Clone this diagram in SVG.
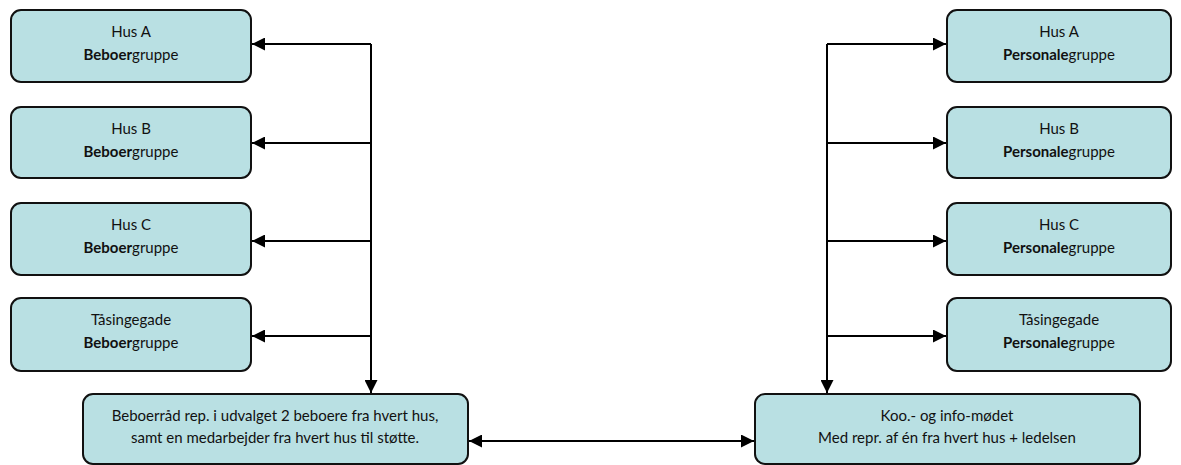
<svg xmlns="http://www.w3.org/2000/svg" width="1181" height="465" viewBox="0 0 1181 465">
<defs>
<style>
.box{fill:#b9e0e3;stroke:#111;stroke-width:2}
.t{font-family:Lato,"Liberation Sans",sans-serif;font-size:15px;fill:#111;text-anchor:middle}
.b{font-weight:bold}
.c{fill:none;stroke:#000;stroke-width:2}
</style>
<marker id="ah" viewBox="0 0 12 12" refX="12" refY="6" markerWidth="13" markerHeight="13" markerUnits="userSpaceOnUse" orient="auto-start-reverse">
<path d="M0,0 L12,6 L0,12 Z" fill="#000"/>
</marker>
</defs>
<rect width="1181" height="465" fill="#fff"/>
<g id="connectors">
<path class="c" d="M371,44 V393" marker-end="url(#ah)"/>
<path class="c" d="M371,44 H252" marker-end="url(#ah)"/>
<path class="c" d="M371,143 H252" marker-end="url(#ah)"/>
<path class="c" d="M371,241 H252" marker-end="url(#ah)"/>
<path class="c" d="M371,336 H252" marker-end="url(#ah)"/>
<path class="c" d="M827,44 V393" marker-end="url(#ah)"/>
<path class="c" d="M827,44 H946" marker-end="url(#ah)"/>
<path class="c" d="M827,143 H946" marker-end="url(#ah)"/>
<path class="c" d="M827,241 H946" marker-end="url(#ah)"/>
<path class="c" d="M827,336 H946" marker-end="url(#ah)"/>
<path class="c" d="M469,441 H754" marker-start="url(#ah)" marker-end="url(#ah)"/>
</g>
<g id="l1"><rect class="box" x="11" y="10" width="240" height="72" rx="10"/><text class="t" x="131" y="37">Hus A</text><text class="t" x="131" y="60"><tspan class="b">Beboer</tspan>gruppe</text></g>
<g id="l2"><rect class="box" x="11" y="107" width="240" height="71" rx="10"/><text class="t" x="131" y="134">Hus B</text><text class="t" x="131" y="157"><tspan class="b">Beboer</tspan>gruppe</text></g>
<g id="l3"><rect class="box" x="11" y="203" width="240" height="72" rx="10"/><text class="t" x="131" y="230">Hus C</text><text class="t" x="131" y="253"><tspan class="b">Beboer</tspan>gruppe</text></g>
<g id="l4"><rect class="box" x="11" y="298" width="240" height="73" rx="10"/><text class="t" x="131" y="325">Tåsingegade</text><text class="t" x="131" y="348"><tspan class="b">Beboer</tspan>gruppe</text></g>
<g id="r1"><rect class="box" x="947" y="10" width="224" height="72" rx="10"/><text class="t" x="1059" y="37">Hus A</text><text class="t" x="1059" y="60"><tspan class="b">Personale</tspan>gruppe</text></g>
<g id="r2"><rect class="box" x="947" y="107" width="224" height="71" rx="10"/><text class="t" x="1059" y="134">Hus B</text><text class="t" x="1059" y="157"><tspan class="b">Personale</tspan>gruppe</text></g>
<g id="r3"><rect class="box" x="947" y="203" width="224" height="72" rx="10"/><text class="t" x="1059" y="230">Hus C</text><text class="t" x="1059" y="253"><tspan class="b">Personale</tspan>gruppe</text></g>
<g id="r4"><rect class="box" x="947" y="298" width="224" height="73" rx="10"/><text class="t" x="1059" y="325">Tåsingegade</text><text class="t" x="1059" y="348"><tspan class="b">Personale</tspan>gruppe</text></g>
<g id="bl"><rect class="box" x="83" y="394" width="385" height="70" rx="10"/><text class="t" x="275" y="421">Beboerråd rep. i udvalget 2 beboere fra hvert hus,</text><text class="t" x="275" y="443">samt en medarbejder fra hvert hus til støtte.</text></g>
<g id="br"><rect class="box" x="755" y="394" width="385" height="70" rx="10"/><text class="t" x="947" y="421">Koo.- og info-mødet</text><text class="t" x="947" y="443">Med repr. af én fra hvert hus + ledelsen</text></g>
</svg>
